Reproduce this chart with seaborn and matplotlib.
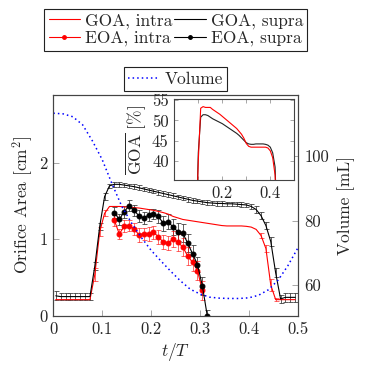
import numpy as np
import pandas as pd
import seaborn as sns
import matplotlib
matplotlib.use("Agg")
import matplotlib.pyplot as plt
from matplotlib.lines import Line2D

# GOA samples (t/T)
goa_t = [0.005, 0.015, 0.025, 0.035, 0.045, 0.055, 0.065, 0.075, 0.085, 0.095,
         0.105, 0.115, 0.125, 0.135, 0.145, 0.155, 0.165, 0.175, 0.185, 0.195,
         0.205, 0.215, 0.225, 0.235, 0.245, 0.255, 0.265, 0.275, 0.285, 0.295,
         0.305, 0.315, 0.325, 0.335, 0.345, 0.355, 0.365, 0.375, 0.385, 0.395,
         0.405, 0.415, 0.425, 0.435, 0.445, 0.455, 0.465, 0.475, 0.485, 0.495]
goa_supra = [0.26, 0.25, 0.25, 0.25, 0.25, 0.25, 0.25, 0.25, 0.65, 1.17,
             1.56, 1.70, 1.72, 1.72, 1.71, 1.70, 1.69, 1.675, 1.66, 1.645,
             1.63, 1.615, 1.60, 1.585, 1.57, 1.555, 1.54, 1.525, 1.51, 1.50,
             1.49, 1.48, 1.475, 1.47, 1.47, 1.465, 1.465, 1.46, 1.455, 1.45,
             1.43, 1.39, 1.31, 1.18, 0.97, 0.56, 0.22, 0.24, 0.24, 0.24]
goa_supra_err = [0.06, 0.05, 0.05, 0.05, 0.05, 0.05, 0.05, 0.05, 0.05, 0.05,
                 0.04, 0.03, 0.03, 0.03, 0.03, 0.03, 0.03, 0.03, 0.03, 0.03,
                 0.03, 0.03, 0.03, 0.03, 0.03, 0.03, 0.03, 0.03, 0.03, 0.03,
                 0.03, 0.03, 0.03, 0.03, 0.03, 0.03, 0.03, 0.03, 0.03, 0.03,
                 0.03, 0.04, 0.05, 0.05, 0.06, 0.06, 0.05, 0.06, 0.06, 0.06]
goa_intra = [0.21, 0.21, 0.21, 0.21, 0.21, 0.21, 0.21, 0.21, 0.54, 1.10,
             1.34, 1.43, 1.43, 1.43, 1.425, 1.42, 1.415, 1.41, 1.40, 1.39,
             1.38, 1.365, 1.35, 1.33, 1.30, 1.28, 1.26, 1.25, 1.24, 1.23,
             1.22, 1.21, 1.20, 1.19, 1.18, 1.175, 1.175, 1.175, 1.175, 1.17,
             1.16, 1.13, 1.05, 0.88, 0.40, 0.21, 0.21, 0.21, 0.21, 0.21]
goa_intra_err = [0, 0, 0, 0, 0, 0, 0, 0, 0.08, 0.06,
                 0.04, 0, 0, 0, 0, 0, 0, 0, 0, 0,
                 0, 0, 0, 0, 0, 0, 0, 0, 0, 0,
                 0, 0, 0, 0, 0, 0, 0, 0, 0, 0,
                 0, 0, 0.03, 0.05, 0.08, 0.02, 0, 0, 0, 0]

# EOA samples
eoa_t = [0.125, 0.135, 0.145, 0.155, 0.165, 0.175, 0.185, 0.195, 0.205, 0.215,
         0.225, 0.235, 0.245, 0.255, 0.265, 0.275, 0.285, 0.295, 0.305, 0.315]
eoa_supra = [1.35, 1.26, 1.36, 1.44, 1.38, 1.31, 1.28, 1.32, 1.33, 1.30,
             1.21, 1.23, 1.16, 1.10, 1.08, 0.95, 0.81, 0.67, 0.39, 0.0]
eoa_supra_err = [0.07, 0.07, 0.08, 0.07, 0.07, 0.08, 0.08, 0.08, 0.07, 0.08,
                 0.10, 0.10, 0.11, 0.12, 0.12, 0.12, 0.12, 0.10, 0.12, 0.08]
eoa_intra = [1.25, 1.07, 1.17, 1.18, 1.14, 1.06, 1.07, 1.07, 1.09, 1.035,
             0.96, 0.95, 1.005, 0.96, 0.90, 0.78, 0.70, 0.59, 0.33]
eoa_intra_err = [0.07, 0.06, 0.08, 0.07, 0.08, 0.09, 0.08, 0.09, 0.08, 0.09,
                 0.09, 0.09, 0.10, 0.11, 0.12, 0.12, 0.11, 0.12, 0.12]

# ventricular volume
vol_t = [0.0, 0.02, 0.04, 0.06, 0.08, 0.10, 0.12, 0.14, 0.16, 0.18, 0.20, 0.22, 0.24,
         0.26, 0.28, 0.30, 0.32, 0.34, 0.36, 0.38, 0.40, 0.42, 0.44, 0.46, 0.48, 0.50]
volume = [113.4, 113.2, 112.3, 109.8, 104.8, 99.0, 91.5, 84.5, 79.3, 74.8, 70.8, 67.5, 64.3,
          61.3, 58.7, 57.2, 56.2, 55.9, 55.8, 55.8, 56.0, 56.8, 58.5, 61.5, 66.0, 71.4]

# normalised GOA (inset)
ins_t = [0.09, 0.10, 0.11, 0.12, 0.13, 0.14, 0.15, 0.16, 0.17, 0.18, 0.19, 0.20,
         0.21, 0.22, 0.23, 0.24, 0.25, 0.26, 0.27, 0.28, 0.29, 0.30, 0.31, 0.32,
         0.33, 0.34, 0.35, 0.36, 0.37, 0.38, 0.39, 0.40, 0.41, 0.42, 0.43]
ins_intra = [20, 40, 53.0, 53.4, 53.2, 53.2, 53.2, 52.7, 52.3, 51.9, 51.5, 51.0,
             50.5, 50.0, 49.5, 49.0, 48.5, 48.0, 47.3, 46.6, 45.6, 44.3, 43.6, 43.4,
             43.4, 43.4, 43.4, 43.4, 43.4, 43.4, 43.2, 42.5, 40.8, 36.5, 20]
ins_supra = [20, 42, 50.8, 51.4, 51.4, 51.2, 50.8, 50.4, 50.1, 49.8, 49.5, 49.2,
             48.8, 48.4, 48.0, 47.6, 47.2, 46.8, 46.3, 45.7, 45.1, 44.5, 44.2, 44.1,
             44.1, 44.2, 44.2, 44.2, 44.2, 44.1, 43.9, 43.4, 42.0, 38.5, 20]

sns.set_theme(style="ticks")
plt.rcParams["font.family"] = "serif"
plt.rcParams["font.serif"] = ["cmr10"]
plt.rcParams["mathtext.fontset"] = "cm"
plt.rcParams["axes.formatter.use_mathtext"] = True
plt.rcParams["font.size"] = 12.5
plt.rcParams["axes.unicode_minus"] = False

FS = 12.5
TS = 12

fig = plt.figure(figsize=(3.68, 3.71), dpi=100)
ax = fig.add_axes([0.1448, 0.1491, 0.6641, 0.5949])

goa = pd.DataFrame({"t": goa_t, "supra": goa_supra, "intra": goa_intra,
                    "intra_err": goa_intra_err})
eoa_s = pd.DataFrame({"t": eoa_t, "eoa": eoa_supra})
eoa_i = pd.DataFrame({"t": eoa_t[:len(eoa_intra)], "eoa": eoa_intra})
vol = pd.DataFrame({"t": vol_t, "vol": volume})
ins = pd.DataFrame({"t": ins_t, "intra": ins_intra, "supra": ins_supra})

lw = 0.8
eb = dict(fmt="none", elinewidth=0.7, capsize=1.8, capthick=0.7)
# error bars
ax.errorbar(goa_t, goa_supra, yerr=goa_supra_err, ecolor="#333333", alpha=0.8, **eb)
g_err = goa[goa["intra_err"] > 0]
ax.errorbar(g_err["t"], g_err["intra"], yerr=g_err["intra_err"], ecolor="red",
            alpha=0.6, **eb)
ax.errorbar(eoa_t, eoa_supra, yerr=eoa_supra_err, ecolor="#333333", alpha=0.8, **eb)
ax.errorbar(eoa_i["t"], eoa_intra, yerr=eoa_intra_err, ecolor="red", alpha=0.6, **eb)

sns.lineplot(data=goa, x="t", y="intra", color="red", lw=lw, ax=ax, legend=False)
sns.lineplot(data=goa, x="t", y="supra", color="black", lw=lw, ax=ax, legend=False)
sns.lineplot(data=eoa_i, x="t", y="eoa", color="red", lw=lw, marker="o", ms=3.5,
             mec="red", ax=ax, legend=False)
sns.lineplot(data=eoa_s, x="t", y="eoa", color="black", lw=lw, marker="o", ms=3.5,
             mec="black", ax=ax, legend=False)

ax.set_xlim(0, 0.5)
ax.set_ylim(0, 2.89)
ax.set_xticks([0, 0.1, 0.2, 0.3, 0.4, 0.5])
ax.set_xticklabels(["0", "0.1", "0.2", "0.3", "0.4", "0.5"])
ax.set_yticks([0, 1, 2])
ax.set_yticklabels(["0", "1", "2"])
ax.set_xlabel("$t/T$", labelpad=3, fontsize=FS)
ax.set_ylabel("Orifice Area [cm$^2$]", labelpad=3, fontsize=FS)
ax.tick_params(direction="in", length=4, width=0.6, color="#999999", pad=4,
               labelsize=TS, top=False, right=False)

ax2 = ax.twinx()
sns.lineplot(data=vol, x="t", y="vol", color="blue", lw=1.1, ls=(0, (1, 2)), ax=ax2,
             legend=False)
ax2.set_ylim(50.45, 119.07)
ax2.set_yticks([60, 80, 100])
ax2.set_yticklabels(["60", "80", "100"])
ax2.set_ylabel("Volume [mL]", labelpad=6, fontsize=FS)
ax2.tick_params(direction="in", length=4, width=0.6, color="#999999", pad=5,
                labelsize=TS)
for a in (ax, ax2):
    for s in a.spines.values():
        s.set_color("#444444")
        s.set_linewidth(0.8)

# inset
axi = fig.add_axes([0.4736, 0.5148, 0.3261, 0.2175])
axi.set_facecolor("white")
sns.lineplot(data=ins, x="t", y="supra", color="#222222", lw=lw, ax=axi, legend=False)
sns.lineplot(data=ins, x="t", y="intra", color="red", lw=lw, ax=axi, legend=False)
axi.set_xlim(0, 0.5)
axi.set_ylim(35.3, 55.2)
axi.set_xticks([0.1, 0.2, 0.3, 0.4])
axi.set_xticklabels(["", "0.2", "", "0.4"])
axi.set_yticks([40, 45, 50, 55])
axi.set_yticklabels(["40", "45", "50", "55"])
axi.set_xlabel("")
axi.set_ylabel(r"$\overline{\mathrm{GOA}}$ [%]", labelpad=2, fontsize=FS)
axi.tick_params(direction="in", length=3, width=0.6, color="#999999", pad=4,
                labelsize=TS, top=True, right=True)
for s in axi.spines.values():
    s.set_color("#444444")
    s.set_linewidth(0.8)

# legends
h1 = [Line2D([], [], color="red", lw=lw),
      Line2D([], [], color="red", lw=lw, marker="o", ms=2.5),
      Line2D([], [], color="black", lw=lw),
      Line2D([], [], color="black", lw=lw, marker="o", ms=2.5)]
l1 = ["GOA, intra", "EOA, intra", "GOA, supra", "EOA, supra"]
leg1 = fig.legend(h1, l1, ncol=2, loc="upper center", bbox_to_anchor=(0.478, 1.0),
                  frameon=True, fancybox=False, edgecolor="#222222", framealpha=1,
                  handlelength=1.8, handletextpad=0.3, columnspacing=0.1,
                  borderpad=0.25, labelspacing=0.1, fontsize=FS)
leg1.get_frame().set_linewidth(0.8)
h2 = [Line2D([], [], color="blue", lw=1.1, ls=(0, (1, 2)))]
leg2 = fig.legend(h2, ["Volume"], loc="upper center", bbox_to_anchor=(0.477, 0.842),
                  frameon=True, fancybox=False, edgecolor="#222222", framealpha=1,
                  handlelength=1.8, handletextpad=0.3, borderpad=0.25, fontsize=FS)
leg2.get_frame().set_linewidth(0.8)

fig.savefig("out.png", dpi=100)
